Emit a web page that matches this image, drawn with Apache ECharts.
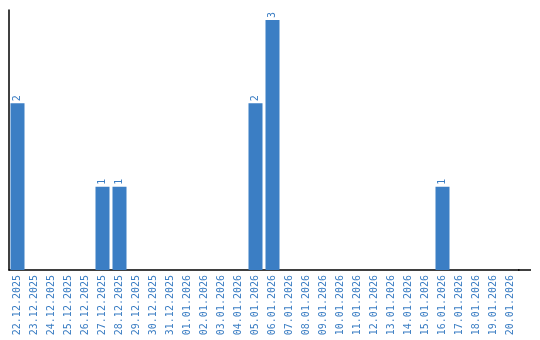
<!DOCTYPE html>
<html><head><meta charset="utf-8">
<script src="https://cdn.jsdelivr.net/npm/echarts@6/dist/echarts.min.js"></script>
<style>html,body{margin:0;padding:0;background:#fff}#c{width:540px;height:340px}</style>
</head><body><div id="c"></div>
<script>
const categories = ["22.12.2025","23.12.2025","24.12.2025","25.12.2025","26.12.2025","27.12.2025","28.12.2025","29.12.2025","30.12.2025","31.12.2025","01.01.2026","02.01.2026","03.01.2026","04.01.2026","05.01.2026","06.01.2026","07.01.2026","08.01.2026","09.01.2026","10.01.2026","11.01.2026","12.01.2026","13.01.2026","14.01.2026","15.01.2026","16.01.2026","17.01.2026","18.01.2026","19.01.2026","20.01.2026"];
const values = [2,0,0,0,0,1,1,0,0,0,0,0,0,0,2,3,0,0,0,0,0,0,0,0,0,1,0,0,0,0];
const chart = echarts.init(document.getElementById('c'));
chart.setOption({
  animation:false,
  grid:{left:9,width:510,top:10,bottom:70},
  graphic:[{type:'line',shape:{x1:518,y1:270,x2:531,y2:270},style:{stroke:'#000',lineWidth:1.5}}],
  xAxis:{type:'category',data:categories,
    axisLine:{lineStyle:{color:'#000',width:1.5}},
    axisTick:{show:false},
    axisLabel:{rotate:90,interval:0,color:'#3a7dc3',fontFamily:'DejaVu Sans Mono',fontSize:10,margin:5}},
  yAxis:{type:'value',min:0,max:3.12,show:true,splitLine:{show:false},axisLabel:{show:false},axisTick:{show:false},
    axisLine:{show:true,lineStyle:{color:'#000',width:1.5}}},
  series:[{type:'bar',data:values.map(v=>v===0?null:v),barWidth:14,
    itemStyle:{color:'#3b7ec4'},
    label:{show:true,position:'top',rotate:90,align:'left',verticalAlign:'middle',distance:2,color:'#3a7dc3',fontFamily:'DejaVu Sans Mono',fontSize:10}}]
});
</script></body></html>
